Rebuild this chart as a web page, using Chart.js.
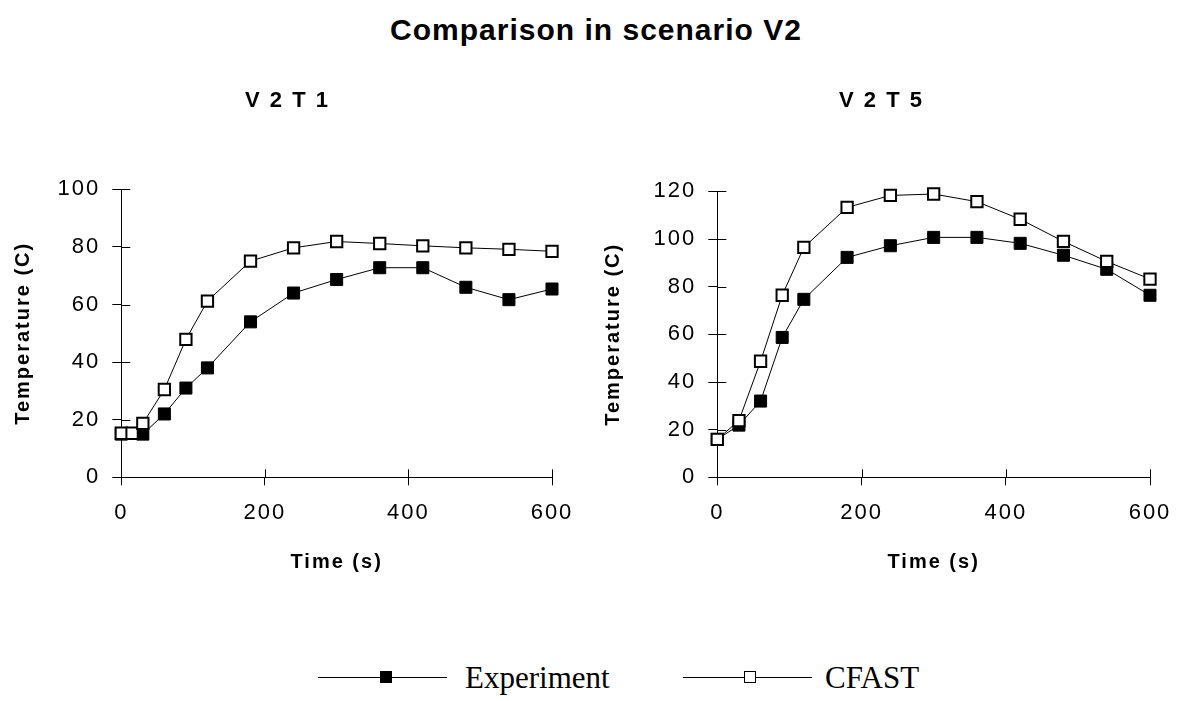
<!DOCTYPE html>
<html>
<head>
<meta charset="utf-8">
<script src="https://cdn.jsdelivr.net/npm/chart.js@4"></script>
<style>
  body { margin: 0; background: #fff; width: 1182px; height: 701px; position: relative; overflow: hidden; }
  #title { position: absolute; left: 10px; width: 1172px; top: 14px; text-align: center;
           font: bold 30px "Liberation Sans", Arial, sans-serif; letter-spacing: 1px; line-height: 32px; }
  .box { position: absolute; top: 85px; height: 515px; }
  #legend { position: absolute; top: 660px; left: 0; width: 1182px; height: 40px;
            font-family: "Liberation Serif", "Times New Roman", serif; font-size: 31px; }
  .lg-line { position: absolute; top: 17px; height: 0; border-top: 1.5px solid #000; width: 129px; }
  .lg-sq { position: absolute; top: 11px; width: 10px; height: 10px; border: 1px solid #000; }
  .lg-txt { position: absolute; top: 0px; line-height: 36px; }
</style>
</head>
<body>
<div id="title">Comparison in scenario V2</div>
<div class="box" style="left:0px;width:575px"><canvas id="t1"></canvas></div>
<div class="box" style="left:590px;width:583px"><canvas id="t5"></canvas></div>
<div id="legend">
  <div class="lg-line" style="left:318px"></div>
  <div class="lg-sq" style="left:380px;background:#000"></div>
  <div class="lg-txt" style="left:465px">Experiment</div>
  <div class="lg-line" style="left:683px"></div>
  <div class="lg-sq" style="left:744px;background:#fff"></div>
  <div class="lg-txt" style="left:825px">CFAST</div>
</div>
<script>
// V2T1
const expTimeT1 = [0, 30, 60, 90, 120, 180, 240, 300, 360, 420, 480, 540, 600];
const expT1 = [15, 15, 22, 31, 38, 54, 64, 68.7, 72.8, 72.8, 66, 61.7, 65.4];
const cfastTimeT1 = [0, 15, 30, 60, 90, 120, 180, 240, 300, 360, 420, 480, 540, 600];
const cfastT1 = [15.3, 15.3, 18.7, 30.5, 47.9, 61.2, 75.1, 79.7, 81.9, 81.2, 80.4, 79.7, 79.2, 78.5];

// V2T5
const timeT5 = [0, 30, 60, 90, 120, 180, 240, 300, 360, 420, 480, 540, 600];
const expT5 = [15.9, 21.9, 32, 58.7, 74.7, 92.3, 97.2, 100.7, 100.7, 98.2, 93.2, 87.3, 76.4];
const cfastT5 = [15.9, 23.8, 48.7, 76.4, 96.5, 113.3, 118.3, 118.9, 115.7, 108.3, 99, 90.6, 83.2];

const FONT = '"Liberation Sans", Arial, sans-serif';

function pts(xs, ys) {
  return xs.map((x, i) => ({ x: x, y: ys[i] }));
}

// Excel-Stil: Ticks kreuzen die Achse, also innen auch ein Stueck zeichnen
const crossTicks = {
  id: 'crossTicks',
  beforeDatasetsDraw(chart) {
    const ctx = chart.ctx;
    const xs = chart.scales.x, ys = chart.scales.y;
    ctx.save();
    ctx.strokeStyle = '#000';
    ctx.lineWidth = 1;
    ctx.beginPath();
    xs.ticks.forEach((t, i) => {
      const px = Math.round(xs.getPixelForTick(i)) + 0.5;
      ctx.moveTo(px, xs.top);
      ctx.lineTo(px, xs.top - 8);
    });
    ys.ticks.forEach((t, i) => {
      const py = Math.round(ys.getPixelForTick(i)) + 0.5;
      ctx.moveTo(ys.right, py);
      ctx.lineTo(ys.right + 9, py);
    });
    ctx.stroke();
    ctx.restore();
  }
};

const spacing = {
  id: 'spacing',
  beforeUpdate(chart) { chart.ctx.letterSpacing = '2px'; },
  beforeDraw(chart) { chart.ctx.letterSpacing = '2px'; }
};

function makeChart(id, title, exp, cfast, yMax, yWidth, titleGap) {
  return new Chart(document.getElementById(id), {
    type: 'line',
    data: {
      datasets: [{
        label: 'Experiment',
        data: exp,
        order: 1,
        clip: false,
        borderColor: '#000',
        borderWidth: 1,
        pointStyle: 'rect',
        pointRadius: 8.5,
        pointBackgroundColor: '#000',
        pointBorderColor: '#000',
        pointBorderWidth: 1
      }, {
        label: 'CFAST',
        data: cfast,
        order: 0,
        clip: false,
        borderColor: '#000',
        borderWidth: 1,
        pointStyle: 'rect',
        pointRadius: 8,
        pointBackgroundColor: '#fff',
        pointBorderColor: '#000',
        pointBorderWidth: 2
      }]
    },
    options: {
      responsive: true,
      maintainAspectRatio: false,
      animation: false,
      layout: { padding: { left: 0, right: 0, top: 0, bottom: 0 } },
      plugins: {
        legend: { display: false },
        tooltip: { enabled: false },
        title: {
          display: true,
          text: title,
          color: '#000',
          font: { family: FONT, size: 22, weight: 'bold' },
          padding: { top: 3, bottom: titleGap }
        }
      },
      scales: {
        x: {
          type: 'linear',
          min: 0, max: 600,
          ticks: { stepSize: 200, color: '#000', padding: 14, font: { family: FONT, size: 22 } },
          grid: { drawOnChartArea: false, color: '#000', tickLength: 8 },
          border: { color: '#000', width: 1 },
          title: { display: true, text: 'Time (s)', color: '#000',
                   font: { family: FONT, size: 20, weight: 'bold' }, padding: { top: 0, bottom: 26 } },
          afterFit(s) { s.height = 122.7; s.paddingRight = 23; }
        },
        y: {
          min: 0, max: yMax,
          ticks: { stepSize: 20, color: '#000', padding: 12, font: { family: FONT, size: 22 } },
          grid: { drawOnChartArea: false, color: '#000', tickLength: 9 },
          border: { color: '#000', width: 1 },
          title: { display: true, text: 'Temperature (C)', color: '#000',
                   font: { family: FONT, size: 20, weight: 'bold' }, padding: { top: 11, bottom: 0 } },
          afterFit(s) { s.width = yWidth; }
        }
      }
    },
    plugins: [spacing, crossTicks]
  });
}

makeChart('t1', 'V 2 T 1', pts(expTimeT1, expT1), pts(cfastTimeT1, cfastT1), 100, 121.3, 75);
makeChart('t5', 'V 2 T 5', pts(timeT5, expT5), pts(timeT5, cfastT5), 120, 127.3, 77);
</script>
</body>
</html>
